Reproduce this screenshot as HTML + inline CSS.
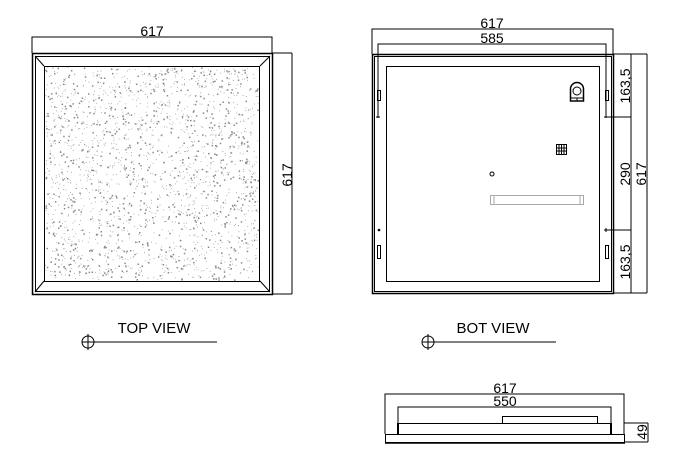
<!DOCTYPE html>
<html><head><meta charset="utf-8"><style>
html,body{margin:0;padding:0;background:#fff;}
svg{display:block;font-family:"Liberation Sans",Arial,sans-serif;}
</style></head><body>
<svg id="s" width="693" height="457" viewBox="0 0 693 457" xmlns="http://www.w3.org/2000/svg">
<g stroke="#000" stroke-width="1" fill="none">
<!-- TOP VIEW -->
<polyline points="32,53 32,37 272,37 272,53"/>
<line x1="272" y1="53" x2="292" y2="53"/><line x1="272" y1="294" x2="292" y2="294"/>
<line x1="292" y1="53" x2="292" y2="294"/>
<rect x="32.5" y="53.5" width="240" height="241" stroke-width="1.5"/>
<rect x="35.5" y="56.5" width="234" height="235"/>
<rect x="44.5" y="66.5" width="215" height="215"/>
<line x1="35" y1="56" x2="44" y2="66"/><line x1="270" y1="56" x2="260" y2="66"/>
<line x1="35" y1="292" x2="44" y2="281"/><line x1="270" y1="292" x2="260" y2="281"/>
<g id="dots" stroke="none" fill="#8a8a8a"></g>
<!-- BOT VIEW -->
<polyline points="372,54 372,29 613,29 613,54"/>
<polyline points="378,118 378,44 606,44 606,118"/>
<line x1="613" y1="54" x2="647" y2="54"/><line x1="606" y1="117" x2="631" y2="117"/>
<line x1="606" y1="230" x2="631" y2="230"/><line x1="613" y1="293" x2="647" y2="293"/>
<line x1="631" y1="54" x2="631" y2="293"/><line x1="647" y1="54" x2="647" y2="293"/>
<line x1="376" y1="117" x2="380" y2="117"/><line x1="604" y1="117" x2="608" y2="117"/>
<line x1="604" y1="230" x2="608" y2="230"/><line x1="606" y1="228" x2="606" y2="232"/>
<rect x="372.5" y="54.5" width="241" height="239" stroke-width="1.5"/>
<rect x="374.5" y="56.5" width="237" height="235"/>
<rect x="386.5" y="66.5" width="213" height="215"/>
<rect x="377.5" y="90.5" width="3" height="10"/><rect x="605.5" y="90.5" width="3" height="10"/>
<rect x="377.5" y="245.5" width="3" height="13"/><rect x="605.5" y="245.5" width="3" height="13"/>
<circle cx="379" cy="230" r="0.8" fill="#000"/>
<path d="M570.5,101 V89 A6.5,6.5 0 0 1 583.5,89 V101 Z" stroke-width="1.5"/>
<circle cx="577" cy="91" r="4"/>
<line x1="570" y1="98" x2="584" y2="98"/><line x1="577" y1="98" x2="577" y2="101"/>
<rect x="556.5" y="144.5" width="10" height="10"/>
<line x1="559" y1="144" x2="559" y2="155"/><line x1="561.5" y1="144" x2="561.5" y2="155"/><line x1="564" y1="144" x2="564" y2="155"/>
<line x1="556" y1="148" x2="567" y2="148"/><line x1="556" y1="151" x2="567" y2="151"/>
<circle cx="492" cy="174" r="2"/>
<rect x="490.5" y="195.5" width="93" height="9" stroke="#aaa"/>
<line x1="494" y1="195" x2="494" y2="205" stroke="#aaa"/><line x1="580" y1="195" x2="580" y2="205" stroke="#aaa"/>
<!-- labels crosshairs -->
<line x1="82" y1="342" x2="217" y2="342"/><circle cx="88" cy="342" r="6"/><line x1="88" y1="334" x2="88" y2="350"/>
<line x1="422" y1="342" x2="556" y2="342"/><circle cx="428" cy="342" r="6"/><line x1="428" y1="334" x2="428" y2="350"/>
<!-- SIDE -->
<polyline points="385,434 385,394 624,394 624,434"/>
<polyline points="398,423 398,407 611,407 611,423"/>
<rect x="502.5" y="416.5" width="95" height="7"/>
<rect x="398.5" y="423.5" width="213" height="11"/>
<line x1="398" y1="423" x2="398" y2="435" stroke-width="2"/><line x1="611" y1="423" x2="611" y2="435" stroke-width="2"/>
<rect x="385.5" y="434.5" width="239" height="8"/>
<line x1="385" y1="443" x2="625" y2="443" stroke-width="1.5"/>
<line x1="624" y1="423" x2="648" y2="423"/><line x1="624" y1="442" x2="648" y2="442"/>
<line x1="648" y1="423" x2="648" y2="442"/>
</g>
<g font-size="14" fill="#000" text-anchor="middle">
<text x="152" y="36">617</text>
<text transform="translate(292,175) rotate(-90)">617</text>
<text x="492" y="28">617</text>
<text x="492" y="43">585</text>
<text transform="translate(630,86) rotate(-90)">163,5</text>
<text transform="translate(630,174) rotate(-90)">290</text>
<text transform="translate(646,174) rotate(-90)">617</text>
<text transform="translate(630,262) rotate(-90)">163,5</text>
<text x="505" y="393">617</text>
<text x="505" y="406">550</text>
<text transform="translate(647,432) rotate(-90)">49</text>
<text x="154" y="333" font-size="15">TOP VIEW</text>
<text x="493" y="333" font-size="15">BOT VIEW</text>
</g>
</svg>
<script>
var g=document.getElementById('dots'),s=12345,h='';
function r(){s=(s*1103515245+12345)%2147483648;return s/2147483648;}
for(var i=0;i<2200;i++){var x=45+r()*213,y=67+r()*213,z=r()<0.3?1.5:0.8;h+='<rect x="'+x.toFixed(1)+'" y="'+y.toFixed(1)+'" width="'+z+'" height="'+z+'"/>';}
g.innerHTML=h;
</script>
</body></html>
